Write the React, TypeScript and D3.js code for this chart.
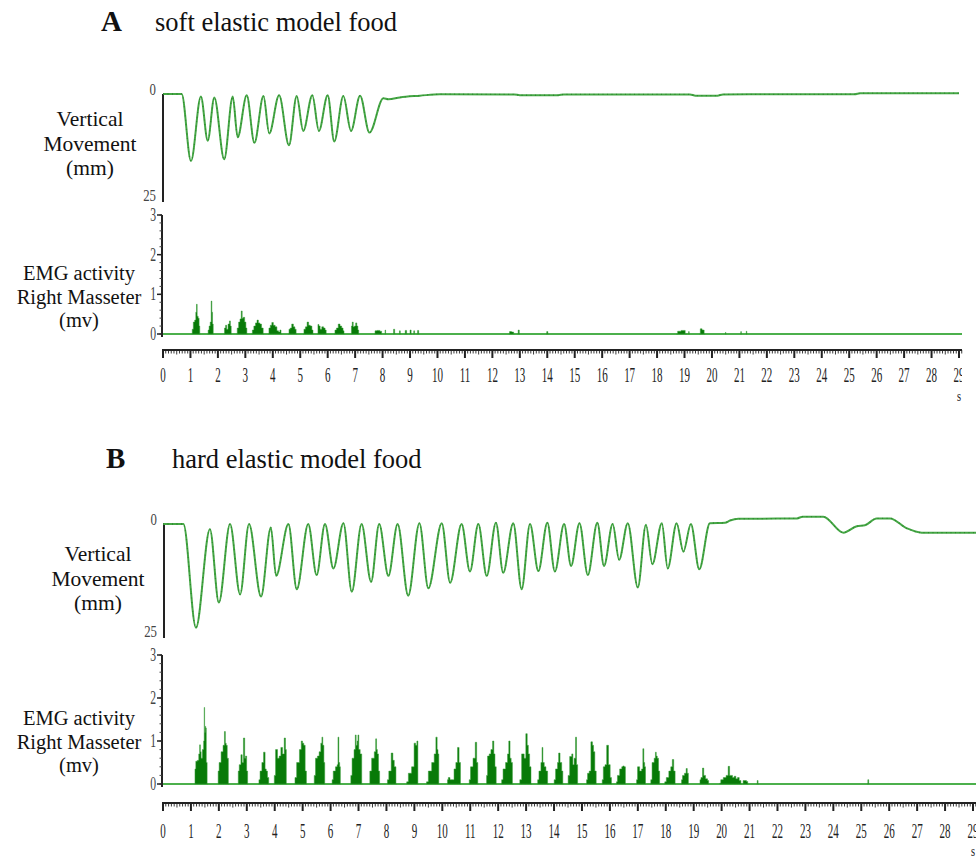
import React from "react";
import * as d3 from "d3";

type P = [number, number];

// ---------- data ----------
const xTickValues: number[] = d3.range(0, 30);
const vmTickLabels: string[] = ["0", "25"];
const emgTickValues: number[] = [0, 1, 2, 3];
const vmLabelLines: string[] = ["Vertical", "Movement", "(mm)"];
const emgLabelLines: string[] = ["EMG activity", "Right Masseter", "(mv)"];

// Vertical movement (mm, 0 = top) – soft food
const vmSoft: P[] = [
  [0, 0], [0.68, 0], [1.02, 15.8], [1.38, 0.6], [1.63, 11.0], [1.87, 0.8], [2.23, 15.4], [2.54, 0.6],
  [2.72, 10.2], [3.05, 0.3], [3.33, 11.5], [3.66, 0.5], [3.87, 9.3], [4.23, 0.3], [4.59, 12.1],
  [4.87, 0.5], [5.11, 8.7], [5.44, 0.3], [5.68, 8.7], [6.0, 0.3], [6.24, 11.2], [6.57, 0.5],
  [6.85, 8.7], [7.18, 0.4], [7.52, 9.1], [8.03, 1.0], [8.21, 1.25], [8.63, 0.8], [9.36, 0.4],
  [10.09, 0.05], [12.8, 0.1], [13.0, 0.3], [14.4, 0.3], [14.6, 0.1], [19.2, 0.1], [19.4, 0.4],
  [20.2, 0.4], [20.4, 0.1], [25.2, 0.05], [25.4, -0.2], [29, -0.2],
];

// Vertical movement – hard food
const vmHard: P[] = [
  [0, 0], [0.73, 0], [1.18, 24.0], [1.68, 1.2], [2.0, 18.2], [2.4, 0], [2.76, 16.3], [3.08, 0],
  [3.51, 16.8], [3.86, 0.8], [4.05, 12.0], [4.49, 0], [4.79, 15.1], [5.2, 0], [5.5, 11.8], [5.8, 0],
  [6.1, 10.3], [6.46, -0.2], [6.76, 15.7], [7.11, 0], [7.45, 13.4], [7.74, 0], [8.07, 12.0], [8.4, 0],
  [8.78, 16.6], [9.18, -0.2], [9.5, 14.9], [9.98, -0.2], [10.28, 13.6], [10.69, 0], [10.99, 11.0],
  [11.29, 0], [11.59, 12.0], [11.92, -0.3], [12.18, 11.3], [12.54, -0.2], [12.84, 15.1], [13.14, 0],
  [13.44, 10.9], [13.76, -0.3], [14.03, 11.0], [14.36, 0], [14.61, 9.7], [14.91, -0.2], [15.21, 11.8],
  [15.55, -0.3], [15.79, 9.7], [16.1, 0], [16.33, 8.3], [16.64, -0.2], [17.0, 14.7], [17.29, 0.2],
  [17.52, 9.3], [17.86, -0.2], [18.07, 10.3], [18.39, -0.2], [18.63, 6.4], [18.9, 0], [19.2, 10.5],
  [19.58, -0.2], [20.12, -0.3], [20.3, -0.8], [20.6, -1.2], [22.7, -1.3], [22.9, -1.7], [23.64, -1.7],
  [24.36, 2.0], [24.84, 0.5], [25.13, 0.3], [25.55, -1.3], [26.03, -1.3], [26.63, 1.0], [27.16, 2.0],
  [29.11, 2.0],
];

// EMG bursts (s, mV) – soft food
const emgSoft: P[][] = [
  [[1.05, 0], [1.08, 0.12], [1.13, 0.3], [1.18, 0.35], [1.21, 0.55], [1.23, 0.75], [1.26, 0.45], [1.3, 0.4], [1.33, 0.2], [1.35, 0]],
  [[1.63, 0], [1.66, 0.1], [1.7, 0.2], [1.74, 0.3], [1.77, 0.83], [1.79, 0.55], [1.82, 0.25], [1.84, 0]],
  [[2.22, 0], [2.26, 0.15], [2.3, 0.22], [2.34, 0.12], [2.4, 0.25], [2.44, 0.33], [2.47, 0.2], [2.5, 0]],
  [[2.68, 0], [2.73, 0.15], [2.78, 0.3], [2.83, 0.38], [2.87, 0.58], [2.9, 0.4], [2.95, 0.42], [3.0, 0.3], [3.04, 0.15], [3.07, 0]],
  [[3.23, 0], [3.28, 0.1], [3.34, 0.2], [3.4, 0.28], [3.45, 0.35], [3.5, 0.28], [3.56, 0.25], [3.62, 0.15], [3.68, 0]],
  [[3.84, 0], [3.88, 0.15], [3.94, 0.22], [3.99, 0.29], [4.05, 0.22], [4.12, 0.18], [4.18, 0.08], [4.24, 0.05], [4.28, 0.1], [4.32, 0]],
  [[4.57, 0], [4.61, 0.12], [4.66, 0.15], [4.72, 0.25], [4.78, 0.18], [4.83, 0.12], [4.87, 0]],
  [[5.11, 0], [5.16, 0.12], [5.22, 0.18], [5.28, 0.3], [5.33, 0.22], [5.4, 0.2], [5.45, 0.1], [5.48, 0]],
  [[5.63, 0], [5.66, 0.24], [5.7, 0.2], [5.75, 0.12], [5.82, 0.18], [5.88, 0.15], [5.93, 0.1], [5.96, 0]],
  [[6.24, 0], [6.29, 0.1], [6.35, 0.15], [6.42, 0.25], [6.48, 0.2], [6.54, 0.15], [6.58, 0.08], [6.61, 0]],
  [[6.85, 0], [6.88, 0.2], [6.91, 0.3], [6.95, 0.18], [7.0, 0.2], [7.04, 0.28], [7.08, 0.2], [7.12, 0.1], [7.14, 0]],
  [[7.71, 0], [7.74, 0.08], [7.85, 0.09], [7.95, 0.07], [7.98, 0]],
  [[8.08, 0], [8.1, 0.1], [8.12, 0]],
  [[8.38, 0], [8.42, 0.12], [8.46, 0]],
  [[8.6, 0], [8.63, 0.08], [8.66, 0]],
  [[8.8, 0], [8.85, 0.09], [8.9, 0]],
  [[8.98, 0], [9.02, 0.1], [9.06, 0]],
  [[9.12, 0], [9.15, 0.08], [9.18, 0]],
  [[9.25, 0], [9.3, 0.09], [9.33, 0]],
  [[12.6, 0], [12.65, 0.06], [12.75, 0.05], [12.8, 0]],
  [[12.92, 0], [12.96, 0.1], [13.0, 0]],
  [[13.96, 0], [14.0, 0.06], [14.04, 0]],
  [[18.7, 0], [18.8, 0.07], [18.95, 0.09], [19.1, 0]],
  [[19.14, 0], [19.16, 0.06], [19.18, 0]],
  [[19.55, 0], [19.6, 0.13], [19.68, 0.1], [19.75, 0]],
  [[20.48, 0], [20.5, 0.04], [20.52, 0]],
  [[21.04, 0], [21.06, 0.06], [21.08, 0]],
  [[21.24, 0], [21.26, 0.07], [21.28, 0]],
];

// EMG bursts (s, mV) – hard food
const emgHard: P[][] = [
  [[1.14, 0], [1.15, 0.35], [1.2, 0.53], [1.26, 0.55], [1.3, 0.7], [1.325, 0.91], [1.35, 0.75], [1.38, 0.6], [1.44, 0.8], [1.47, 1.0], [1.48, 1.78], [1.5, 1.2], [1.52, 1.34], [1.54, 1.3], [1.56, 0.5], [1.6, 0]],
  [[1.97, 0], [1.98, 0.3], [2.04, 0.5], [2.12, 0.75], [2.18, 0.9], [2.22, 1.22], [2.245, 0.95], [2.28, 0.9], [2.32, 0.6], [2.36, 0]],
  [[2.69, 0], [2.7, 0.3], [2.76, 0.45], [2.82, 0.68], [2.85, 0.5], [2.91, 1.07], [2.94, 0.6], [2.97, 0.65], [3.02, 0.3], [3.04, 0]],
  [[3.43, 0], [3.44, 0.1], [3.51, 0.3], [3.57, 0.5], [3.63, 0.74], [3.68, 0.35], [3.71, 0.3], [3.77, 0.15], [3.8, 0]],
  [[3.98, 0], [3.99, 0.2], [4.07, 0.8], [4.13, 0.6], [4.19, 0.65], [4.25, 0.85], [4.31, 0.7], [4.37, 1.07], [4.4, 0.8], [4.43, 0]],
  [[4.72, 0], [4.73, 0.15], [4.84, 0.5], [4.93, 0.8], [4.97, 1.0], [5.02, 0.95], [5.06, 0.9], [5.12, 0.3], [5.15, 0]],
  [[5.41, 0], [5.42, 0.2], [5.5, 0.6], [5.56, 0.65], [5.62, 0.75], [5.68, 0.95], [5.7, 1.09], [5.74, 0.9], [5.78, 0.5], [5.8, 0]],
  [[6.05, 0], [6.06, 0.1], [6.13, 0.3], [6.22, 0.4], [6.25, 0.45], [6.28, 1.09], [6.31, 0.5], [6.34, 0.4], [6.36, 0]],
  [[6.72, 0], [6.73, 0.2], [6.81, 0.6], [6.87, 0.8], [6.9, 1.14], [6.93, 0.9], [6.97, 1.0], [6.99, 1.14], [7.03, 0.8], [7.09, 0.7], [7.14, 0]],
  [[7.4, 0], [7.41, 0.3], [7.53, 0.6], [7.6, 0.75], [7.63, 1.05], [7.66, 0.8], [7.69, 0.7], [7.74, 0.3], [7.77, 0]],
  [[8.03, 0], [8.04, 0.1], [8.13, 0.3], [8.21, 0.72], [8.25, 0.55], [8.31, 0.4], [8.37, 0]],
  [[8.72, 0], [8.73, 0.05], [8.84, 0.25], [8.96, 0.4], [9.02, 0.95], [9.07, 0.9], [9.11, 1.0], [9.14, 0]],
  [[9.43, 0], [9.44, 0.05], [9.56, 0.3], [9.68, 0.5], [9.74, 0.7], [9.8, 1.09], [9.83, 0.8], [9.86, 0.7], [9.89, 0]],
  [[10.18, 0], [10.19, 0.1], [10.24, 0.15], [10.31, 0.1], [10.39, 0.1], [10.45, 0.35], [10.52, 0.5], [10.57, 0.85], [10.63, 0.5], [10.67, 0]],
  [[10.96, 0], [10.97, 0.1], [11.05, 0.4], [11.15, 0.6], [11.21, 0.97], [11.25, 0.5], [11.29, 0]],
  [[11.58, 0], [11.59, 0.2], [11.65, 0.65], [11.71, 0.7], [11.77, 0.8], [11.83, 1.0], [11.86, 0.7], [11.91, 0.4], [11.95, 0]],
  [[12.12, 0], [12.13, 0.1], [12.22, 0.35], [12.31, 0.5], [12.36, 0.7], [12.4, 1.0], [12.45, 0.6], [12.48, 0.5], [12.54, 0]],
  [[12.77, 0], [12.78, 0.1], [12.9, 0.7], [12.96, 0.6], [13.02, 1.17], [13.06, 0.9], [13.1, 0.7], [13.15, 0.4], [13.2, 0]],
  [[13.41, 0], [13.42, 0.1], [13.5, 0.3], [13.56, 0.5], [13.58, 0.85], [13.62, 0.5], [13.68, 0.4], [13.74, 0.3], [13.8, 0]],
  [[14.0, 0], [14.01, 0.1], [14.1, 0.35], [14.15, 0.5], [14.18, 0.72], [14.25, 0.5], [14.3, 0.3], [14.33, 0]],
  [[14.5, 0], [14.51, 0.2], [14.61, 0.64], [14.66, 0.7], [14.69, 0.45], [14.75, 0.6], [14.79, 1.09], [14.82, 0.45], [14.87, 0]],
  [[15.16, 0], [15.17, 0.1], [15.23, 0.25], [15.29, 0.3], [15.35, 0.98], [15.4, 0.9], [15.43, 0.75], [15.49, 0.3], [15.53, 0]],
  [[15.72, 0], [15.73, 0.1], [15.8, 0.4], [15.85, 0.45], [15.92, 0.9], [15.98, 0.45], [16.04, 0.15], [16.07, 0]],
  [[16.23, 0], [16.24, 0.05], [16.3, 0.2], [16.4, 0.35], [16.45, 0.4], [16.48, 0.42], [16.54, 0.4], [16.57, 0]],
  [[16.95, 0], [16.96, 0.1], [17.02, 0.4], [17.11, 0.3], [17.16, 0.35], [17.2, 0.82], [17.23, 0.5], [17.26, 0.4], [17.29, 0]],
  [[17.46, 0], [17.47, 0.1], [17.55, 0.5], [17.62, 0.6], [17.64, 0.74], [17.68, 0.65], [17.71, 0.6], [17.77, 0.3], [17.79, 0]],
  [[17.96, 0], [17.97, 0.05], [18.07, 0.15], [18.15, 0.3], [18.21, 0.4], [18.26, 0.57], [18.31, 0.3], [18.36, 0]],
  [[18.56, 0], [18.57, 0.1], [18.63, 0.2], [18.71, 0.25], [18.75, 0.36], [18.79, 0.25], [18.83, 0]],
  [[19.22, 0], [19.23, 0.1], [19.29, 0.15], [19.34, 0.37], [19.38, 0.2], [19.47, 0.12], [19.52, 0.08], [19.55, 0]],
  [[19.93, 0], [19.94, 0.02], [20.0, 0.1], [20.12, 0.15], [20.2, 0.2], [20.27, 0.41], [20.3, 0.2], [20.36, 0.2], [20.42, 0.15], [20.48, 0.18], [20.54, 0.12], [20.6, 0.15], [20.66, 0.08], [20.72, 0]],
  [[20.76, 0], [20.78, 0.08], [20.86, 0.08], [20.92, 0.06], [20.95, 0]],
  [[21.26, 0], [21.29, 0.08], [21.32, 0]],
  [[25.22, 0], [25.25, 0.1], [25.28, 0]],
];

// ---------- layout ----------
const SERIF = "'Liberation Serif', 'Times New Roman', serif";

interface Cfg {
  id: string; letter: string; title: string; letterX: number; titleX: number; titleY: number;
  xRange: [number, number]; axisEnd: number; clipRight: number;
  vmAxisX: number; vmTop: number; vmBottom: number; vmAxisBottom: number;
  emgAxisX: number; emg3: number; emg0: number; emgAxisBottom: number;
  xAxisY: number; tickLabelY: number; sY: number;
  vmLabelX: number; vmLabelY: number; emgLabelX: number; emgLabelY: number;
}

const cfgA: Cfg = {
  id: "A", letter: "A", title: "soft elastic model food", letterX: 101, titleX: 155, titleY: 31,
  xRange: [163, 959], axisEnd: 962, clipRight: 962,
  vmAxisX: 163, vmTop: 94, vmBottom: 200, vmAxisBottom: 202,
  emgAxisX: 162, emg3: 215, emg0: 334, emgAxisBottom: 337,
  xAxisY: 350, tickLabelY: 382, sY: 401,
  vmLabelX: 90, vmLabelY: 126, emgLabelX: 79, emgLabelY: 280,
};

const cfgB: Cfg = {
  id: "B", letter: "B", title: "hard elastic model food", letterX: 106, titleX: 172, titleY: 468,
  xRange: [163, 973], axisEnd: 976, clipRight: 976,
  vmAxisX: 164, vmTop: 524, vmBottom: 632, vmAxisBottom: 638,
  emgAxisX: 162, emg3: 655, emg0: 784, emgAxisBottom: 787,
  xAxisY: 803, tickLabelY: 838, sY: 856,
  vmLabelX: 98, vmLabelY: 561, emgLabelX: 79, emgLabelY: 725,
};

function Panel({ cfg, vm, emg }: { cfg: Cfg; vm: P[]; emg: P[][] }) {
  const x = d3.scaleLinear().domain([0, 29]).range(cfg.xRange);
  const yVM = d3.scaleLinear().domain([0, 25]).range([cfg.vmTop, cfg.vmBottom]);
  const yE = d3.scaleLinear().domain([0, 3]).range([cfg.emg0, cfg.emg3]);
  const line = d3.line<P>().x((d) => x(d[0])).y((d) => yVM(d[1])).curve(d3.curveMonotoneX);
  const area = d3.area<P>().x((d) => x(d[0])).y0(yE(0)).y1((d) => yE(d[1])).curve(d3.curveStep);
  const maxT = x.invert(cfg.axisEnd);
  const minorTicks = d3.range(0, Math.floor(maxT * 10 + 1e-6) + 1).map((i) => i / 10);
  const emgMinor = d3.range(0, 16).map((i) => i / 5);
  const clipId = `clip-${cfg.id}`;
  const lineH = 24.5;

  return (
    <g>
      <defs>
        <clipPath id={clipId}>
          <rect x={0} y={0} width={cfg.clipRight} height={858} />
        </clipPath>
      </defs>
      {/* titles */}
      <text x={cfg.letterX} y={cfg.titleY} fontFamily={SERIF} fontSize={29} fontWeight="bold" fill="#111">{cfg.letter}</text>
      <text x={cfg.titleX} y={cfg.titleY} fontFamily={SERIF} fontSize={26.5} fill="#111">{cfg.title}</text>

      {/* left labels */}
      {vmLabelLines.map((s, i) => (
        <text key={"v" + i} x={cfg.vmLabelX} y={cfg.vmLabelY + i * lineH} textAnchor="middle" fontFamily={SERIF} fontSize={21.5} fill="#111">{s}</text>
      ))}
      {emgLabelLines.map((s, i) => (
        <text key={"e" + i} x={cfg.emgLabelX} y={cfg.emgLabelY + i * (lineH - 1)} textAnchor="middle" fontFamily={SERIF} fontSize={20.5} fill="#111">{s}</text>
      ))}

      {/* vertical movement axis */}
      <line x1={cfg.vmAxisX} x2={cfg.vmAxisX} y1={cfg.vmTop} y2={cfg.vmAxisBottom} stroke="#222" strokeWidth={2} />
      <text transform={`translate(${cfg.vmAxisX - 7},${cfg.vmTop + 1}) scale(0.8,1)`} textAnchor="end" fontFamily={SERIF} fontSize={16} fill="#444">{vmTickLabels[0]}</text>
      <text transform={`translate(${cfg.vmAxisX - 7},${cfg.vmAxisBottom - 1}) scale(0.8,1)`} textAnchor="end" fontFamily={SERIF} fontSize={16} fill="#444">{vmTickLabels[1]}</text>

      {/* vertical movement trace */}
      <path d={line(vm) || ""} fill="none" stroke="#45a745" strokeWidth={2} strokeLinejoin="round" />
      <path d={line(vm) || ""} fill="none" stroke="#1d6f1d" strokeWidth={1.3} strokeDasharray="1 3.5" opacity={0.55} />

      {/* EMG axis */}
      <line x1={cfg.emgAxisX} x2={cfg.emgAxisX} y1={cfg.emg3} y2={cfg.emgAxisBottom} stroke="#222" strokeWidth={2} />
      {emgMinor.map((v) => (
        <line key={"m" + v} x1={cfg.emgAxisX - 2.5} x2={cfg.emgAxisX} y1={yE(v)} y2={yE(v)} stroke="#444" strokeWidth={1} />
      ))}
      {emgTickValues.map((v) => (
        <g key={"t" + v}>
          <line x1={cfg.emgAxisX - 5} x2={cfg.emgAxisX} y1={yE(v)} y2={yE(v)} stroke="#222" strokeWidth={1.5} />
          <text transform={`translate(${cfg.emgAxisX - 6},${yE(v) + 6}) scale(0.65,1)`} textAnchor="end" fontFamily={SERIF} fontSize={18} fill="#444">{v}</text>
        </g>
      ))}

      {/* EMG baseline + bursts */}
      <line x1={x(0)} x2={cfg.axisEnd} y1={yE(0)} y2={yE(0)} stroke="#4cb04c" strokeWidth={2} />
      {emg.map((b, i) => (
        <path key={"b" + i} d={area(b) || ""} fill="#087a08" stroke="#3a9e3a" strokeWidth={0.5} />
      ))}

      {/* time axis */}
      <line x1={x(0) - 1} x2={cfg.axisEnd} y1={cfg.xAxisY} y2={cfg.xAxisY} stroke="#222" strokeWidth={2} />
      {minorTicks.map((t, i) => (
        <line key={"x" + i} x1={x(t)} x2={x(t)} y1={cfg.xAxisY} y2={cfg.xAxisY + (i % 10 === 0 ? 8 : i % 5 === 0 ? 4.5 : 3.5)}
          stroke="#222" strokeWidth={i % 10 === 0 ? 2 : 0.9} />
      ))}
      <g clipPath={`url(#${clipId})`}>
        {xTickValues.map((t) => (
          <text key={"l" + t} transform={`translate(${x(t)},${cfg.tickLabelY}) scale(0.5,1)`} textAnchor="middle" fontFamily={SERIF} fontSize={22} fill="#222">{t}</text>
        ))}
      </g>
      <text transform={`translate(${x(29)},${cfg.sY}) scale(0.7,1)`} textAnchor="middle" fontFamily={SERIF} fontSize={15} fill="#222">s</text>
    </g>
  );
}

export default function App() {
  return (
    <svg width={976} height={858} style={{ position: "absolute", left: 0, top: 0, background: "#fff" }}>
      <rect x={0} y={0} width={976} height={858} fill="#fff" />
      <Panel cfg={cfgA} vm={vmSoft} emg={emgSoft} />
      <Panel cfg={cfgB} vm={vmHard} emg={emgHard} />
    </svg>
  );
}
